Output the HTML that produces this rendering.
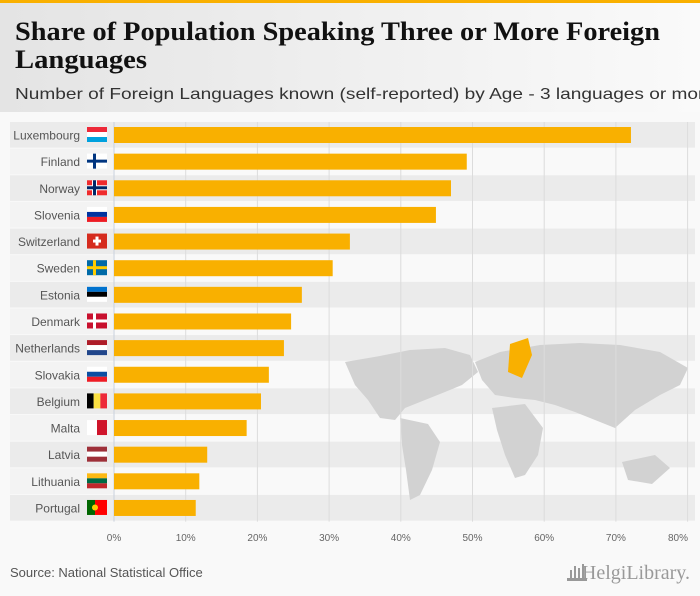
<!DOCTYPE html>
<html><head><meta charset="utf-8">
<style>
html,body{margin:0;padding:0;background:#f9f9f9;}
svg{display:block;}
</style></head>
<body>
<svg id="chart" width="700" height="596" xmlns="http://www.w3.org/2000/svg">
<defs>
<linearGradient id="hdr" x1="0" x2="1" y1="0" y2="0">
<stop offset="0" stop-color="#e4e4e4"/><stop offset="1" stop-color="#fafafa"/>
</linearGradient>
</defs>
<rect x="0" y="0" width="700" height="596" fill="#f9f9f9"/>
<rect x="0" y="0" width="700" height="112" fill="url(#hdr)"/>
<rect x="0" y="0" width="700" height="3" fill="#f9b000"/>
<text x="15" y="40" font-family="Liberation Serif, serif" font-weight="bold" font-size="26" fill="#111" textLength="645" lengthAdjust="spacingAndGlyphs">Share of Population Speaking Three or More Foreign</text>
<text x="15" y="68" font-family="Liberation Serif, serif" font-weight="bold" font-size="26" fill="#111" textLength="132" lengthAdjust="spacingAndGlyphs">Languages</text>
<text x="15" y="99" font-family="Liberation Sans, sans-serif" font-size="16" fill="#333" textLength="700" lengthAdjust="spacingAndGlyphs">Number of Foreign Languages known (self-reported) by Age - 3 languages or more</text>
<g id="rows"></g>
<g id="map" fill="#d2d2d2">
<path d="M345 362 L380 356 L410 350 L445 348 L470 355 L478 372 L462 385 L445 392 L425 400 L405 408 L395 420 L380 418 L368 400 L355 385 Z"/>
<path d="M400 418 L428 424 L440 442 L432 470 L420 495 L410 500 L406 470 L402 445 Z"/>
<path d="M475 362 L500 352 L540 345 L580 343 L620 345 L660 352 L688 368 L680 385 L660 395 L635 410 L615 428 L595 420 L575 412 L555 405 L535 400 L515 398 L495 395 L482 380 Z"/>
<path d="M492 408 L525 404 L543 428 L538 455 L525 475 L515 478 L505 455 L497 430 Z"/>
<path d="M622 462 L655 455 L670 468 L652 484 L628 480 Z"/>
<path d="M510 344 L528 338 L532 355 L522 378 L508 372 Z" fill="#f9b000"/>
</g>
<g id="grid"></g>
<g id="bars"></g>
<g id="axis"></g>
<text x="10" y="577" font-family="Liberation Sans, sans-serif" font-size="13" fill="#555">Source: National Statistical Office</text>
<text x="690" y="579" text-anchor="end" font-family="Liberation Serif, serif" font-size="20" fill="#999">HelgiLibrary.</text>
<g fill="#999">
<rect x="570" y="570" width="2" height="10"/><rect x="574" y="566" width="2" height="14"/><rect x="578" y="568" width="2" height="12"/><rect x="582" y="564" width="2" height="16"/><rect x="567" y="578" width="20" height="3"/>
</g>
</svg>
<script>
const categories=["Luxembourg","Finland","Norway","Slovenia","Switzerland","Sweden","Estonia","Denmark","Netherlands","Slovakia","Belgium","Malta","Latvia","Lithuania","Portugal"];
const values=[72.1,49.2,47.0,44.9,32.9,30.5,26.2,24.7,23.7,21.6,20.5,18.5,13.0,11.9,11.4];
const ticks=[0,10,20,30,40,50,60,70,80];
const tickLabels=["0%","10%","20%","30%","40%","50%","60%","70%","80%"];
const NS="http://www.w3.org/2000/svg";
const x0=114, pxPer=7.17, rowTop=122, rowH=26.64;
const xs=v=>x0+v*pxPer;
const ys=i=>rowTop+i*rowH;
function mk(tag,attrs,parent){const e=document.createElementNS(NS,tag);for(const k in attrs)e.setAttribute(k,attrs[k]);parent.appendChild(e);return e;}
const rows=document.getElementById('rows'),grid=document.getElementById('grid'),bars=document.getElementById('bars'),axis=document.getElementById('axis');
const flags={
Luxembourg:[["#ed2939","#fff","#00a1de"],"h"],Finland:[["#fff"],"nordic","#003580"],Norway:[["#ef2b2d"],"nordic","#002868","#fff"],
Slovenia:[["#fff","#0033a0","#ed1c24"],"h"],Switzerland:[["#d52b1e"],"swiss"],Sweden:[["#006aa7"],"nordic","#fecc00"],
Estonia:[["#0072ce","#000","#fff"],"h"],Denmark:[["#c8102e"],"nordic","#fff"],Netherlands:[["#ae1c28","#fff","#21468b"],"h"],
Slovakia:[["#fff","#0b4ea2","#ee1c25"],"h"],Belgium:[["#000","#fae042","#ed2939"],"v"],Malta:[["#fff","#cf142b"],"v2"],
Latvia:[["#9e3039","#fff","#9e3039"],"h"],Lithuania:[["#fdb913","#006a44","#c1272d"],"h"],Portugal:[["#006600","#ff0000"],"pt"]};
categories.forEach((c,i)=>{
  const y=ys(i);
  if(i%2===0){const r=mk('rect',{x:10,y:y,width:685,height:rowH-1,fill:'#ebebeb'},rows);
  
  }
  else{const r=mk('rect',{x:10,y:y,width:103,height:rowH-1,fill:'#f3f3f3'},rows);
  
  }
  const t=mk('text',{x:80,y:y+17.5,'text-anchor':'end','font-family':'Liberation Sans, sans-serif','font-size':'12',fill:'#555'},rows);
  t.textContent=c;
  
  
  const g=mk('g',{},rows);
  
  
  const fx=87,fy=y+5,fw=20,fh=15,f=flags[c],cols=f[0];
  if(f[1]==='h'){cols.forEach((col,k)=>mk('rect',{x:fx,y:fy+k*fh/3,width:fw,height:fh/3,fill:col},g));}
  else if(f[1]==='v'){cols.forEach((col,k)=>mk('rect',{x:fx+k*fw/3,y:fy,width:fw/3,height:fh,fill:col},g));}
  else if(f[1]==='v2'){mk('rect',{x:fx,y:fy,width:fw/2,height:fh,fill:cols[0]},g);mk('rect',{x:fx+fw/2,y:fy,width:fw/2,height:fh,fill:cols[1]},g);}
  else if(f[1]==='pt'){mk('rect',{x:fx,y:fy,width:8,height:fh,fill:cols[0]},g);mk('rect',{x:fx+8,y:fy,width:12,height:fh,fill:cols[1]},g);mk('circle',{cx:fx+8,cy:fy+7.5,r:3,fill:'#ffcc00'},g);}
  else if(f[1]==='swiss'){mk('rect',{x:fx,y:fy,width:fw,height:fh,fill:cols[0]},g);mk('rect',{x:fx+8.5,y:fy+3,width:3,height:9,fill:'#fff'},g);mk('rect',{x:fx+6,y:fy+6,width:8,height:3,fill:'#fff'},g);}
  else{mk('rect',{x:fx,y:fy,width:fw,height:fh,fill:cols[0]},g);
    if(f[3]){mk('rect',{x:fx+5,y:fy,width:5,height:fh,fill:f[3]},g);mk('rect',{x:fx,y:fy+5,width:fw,height:5,fill:f[3]},g);}
    mk('rect',{x:fx+6,y:fy,width:3,height:fh,fill:f[2]},g);mk('rect',{x:fx,y:fy+6,width:fw,height:3,fill:f[2]},g);}
});
ticks.forEach((v,k)=>{
  const l=mk('line',{x1:xs(v),x2:xs(v),y1:rowTop,y2:ys(categories.length),stroke:k===0?'#c8d0dc':'#dcdcdc','stroke-width':1},grid);
  
  
  const t=mk('text',{x:Math.min(xs(v),678),y:541,'text-anchor':'middle','font-family':'Liberation Sans, sans-serif','font-size':'10',fill:'#666'},axis);
  t.textContent=tickLabels[k];
  
  
});
values.forEach((v,i)=>{
  const r=mk('rect',{x:xs(0),y:ys(i)+5,width:xs(v)-xs(0),height:16,fill:'#f9b000'},bars);
  
  
});
</script>
</body></html>
